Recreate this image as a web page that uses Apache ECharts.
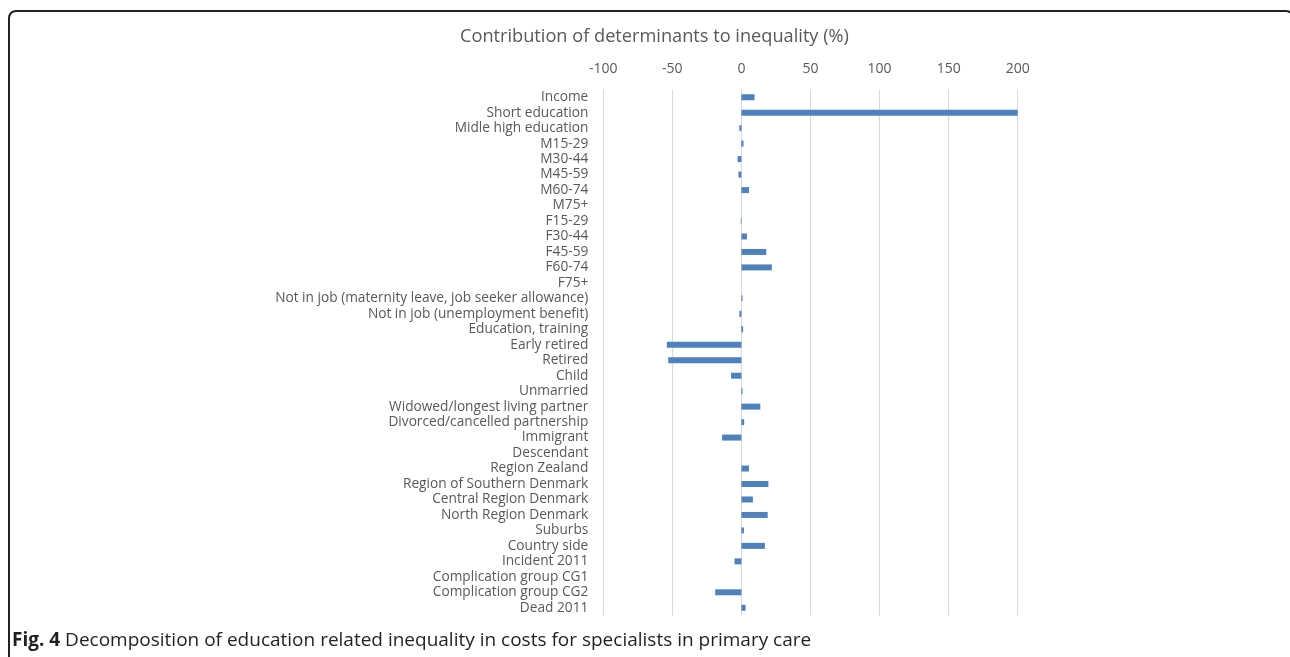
<!DOCTYPE html>
<html>
<head>
<meta charset="utf-8">
<script src="https://cdn.jsdelivr.net/npm/echarts@6/dist/echarts.min.js"></script>
<style>
  html, body { margin: 0; padding: 0; background: #fff; overflow: hidden; }
  #chart { position: absolute; left: 0; top: 0; width: 1290px; height: 657px; }
  .frame {
    position: absolute; left: 8px; top: 10px; width: 1286px; height: 700px;
    border: 2px solid #222; border-radius: 8px; box-sizing: border-box;
  }
</style>
</head>
<body>
<div class="frame"></div>
<div id="chart"></div>
<script>
const categories = [
  'Income', 'Short education', 'Midle high education', 'M15-29', 'M30-44', 'M45-59',
  'M60-74', 'M75+', 'F15-29', 'F30-44', 'F45-59', 'F60-74', 'F75+',
  'Not in job (maternity leave, job seeker allowance)', 'Not in job (unemployment benefit)',
  'Education, training', 'Early retired', 'Retired', 'Child', 'Unmarried',
  'Widowed/longest living partner', 'Divorced/cancelled partnership', 'Immigrant', 'Descendant',
  'Region Zealand', 'Region of Southern Denmark', 'Central Region Denmark', 'North Region Denmark',
  'Suburbs', 'Country side', 'Incident 2011', 'Complication group CG1', 'Complication group CG2',
  'Dead 2011'
]
const contribution = [
  9.5, 200, -1.5, 1.5, -2.8, -2.2,
  5.5, 0, -0.5, 4, 18, 22, 0,
  0.8, -1.5,
  1.2, -54, -53, -7.5, 0.8,
  13.7, 2, -14, 0,
  5.5, 19.5, 8.3, 19,
  1.8, 17, -5, 0, -19,
  3
]
const xTicks = [-100, 200, 50]  // min, max, step

const chart = echarts.init(document.getElementById('chart'))
const font = '"Open Sans", "Noto Sans", sans-serif'

chart.setOption({
  animation: false,
  title: {
    text: 'Contribution of determinants to inequality (%)',
    left: 455, top: 23,
    textStyle: { color: '#595959', fontSize: 18.2, fontWeight: 'normal', fontFamily: font }
  },
  graphic: [{
    type: 'text', left: 12, top: 631,
    style: {
      text: '{b|Fig. 4} Decomposition of education related inequality in costs for specialists in primary care',
      rich: {
        b: { fontWeight: 'bold', fontSize: 19, fill: '#231f20', fontFamily: font }
      },
      fontSize: 19, fill: '#231f20', fontFamily: font
    }
  }],
  grid: { left: 603.3, right: 272.3, top: 89.5, bottom: 41.5, containLabel: false },
  xAxis: {
    type: 'value', position: 'top',
    min: xTicks[0], max: xTicks[1], interval: xTicks[2],
    axisLine: { show: false }, axisTick: { show: false },
    axisLabel: { color: '#595959', fontSize: 14, margin: 13, fontFamily: font },
    splitLine: { show: true, lineStyle: { color: '#d9d9d9', width: 1 } }
  },
  yAxis: {
    type: 'category', inverse: true, data: categories,
    axisLine: { show: false }, axisTick: { show: false },
    axisLabel: { color: '#595959', fontSize: 13.7, margin: 15, fontFamily: font, interval: 0 }
  },
  series: [{
    type: 'bar', data: contribution, barWidth: 6,
    itemStyle: { color: '#4f81bd' }
  }]
})
</script>
</body>
</html>
